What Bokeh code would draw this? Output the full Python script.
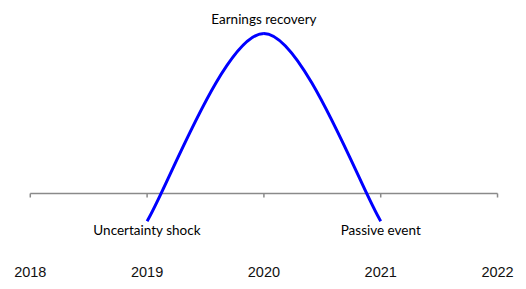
from bokeh.plotting import figure
from bokeh.models import Range1d, ColumnDataSource
from bokeh.core.properties import value
from bokeh.embed import file_html
from bokeh.resources import INLINE

# ---- data ----
years = [2018, 2019, 2020, 2021, 2022]
year_labels = ["2018", "2019", "2020", "2021", "2022"]

event_years = [2019, 2020, 2021]
event_values = [-0.173, 1.000, -0.173]
event_labels = ["Uncertainty shock", "Earnings recovery", "Passive event"]

# ---- layout / style ----
W, H = 526, 289
Y0, Y1 = -0.6, 1.20625
PX = (Y1 - Y0) / H          # data units per pixel (vertical)

p = figure(width=W, height=H,
           x_range=Range1d(2017.745, 2022.248), y_range=Range1d(Y0, Y1),
           x_axis_type=None, y_axis_type=None,
           toolbar_location=None, output_backend="svg",
           min_border=0, outline_line_color=None)
p.background_fill_color = "white"
p.border_fill_color = "white"

axis_color = "#8a8a8a"
# baseline axis
p.line(x=[years[0], years[-1]], y=[0, 0], line_color=axis_color, line_width=1.5)
# tick marks (pointing down)
p.segment(x0=years, y0=[0] * len(years), x1=years, y1=[-4 * PX] * len(years),
          line_color=axis_color, line_width=1.5)
# year labels
p.text(x=years, y=[-78 * PX] * len(years), text=year_labels,
       text_align="center", text_baseline="middle",
       text_font=value("Liberation Sans"), text_font_size="14.5px",
       text_color="#111111")

# smoothed line through the event points (spreadsheet-style smoothing:
# tangent at each point = (next - previous) / 6, endpoints use themselves)
n = len(event_years)
bx0, by0, bx1, by1, cx0, cy0, cx1, cy1 = [], [], [], [], [], [], [], []
for i in range(n - 1):
    xp, yp = event_years[max(i - 1, 0)], event_values[max(i - 1, 0)]
    xa, ya = event_years[i], event_values[i]
    xb, yb = event_years[i + 1], event_values[i + 1]
    xn, yn = event_years[min(i + 2, n - 1)], event_values[min(i + 2, n - 1)]
    bx0.append(xa); by0.append(ya); bx1.append(xb); by1.append(yb)
    cx0.append(xa + (xb - xp) / 6); cy0.append(ya + (yb - yp) / 6)
    cx1.append(xb - (xn - xa) / 6); cy1.append(yb - (yn - ya) / 6)
p.bezier(x0=bx0, y0=by0, x1=bx1, y1=by1, cx0=cx0, cy0=cy0, cx1=cx1, cy1=cy1,
         line_color="#0000ff", line_width=3)

# event labels
lab_y = [v + (14.5 * PX if v > 0.5 else -8.5 * PX) for v in event_values]
src = ColumnDataSource(dict(x=event_years, y=lab_y, t=event_labels))
p.text(x="x", y="y", text="t", source=src,
       text_align="center", text_baseline="middle",
       text_font=value("Lato"), text_font_size="13.5px", text_color="#000000")

open("out.html", "w").write(file_html(p, INLINE))
